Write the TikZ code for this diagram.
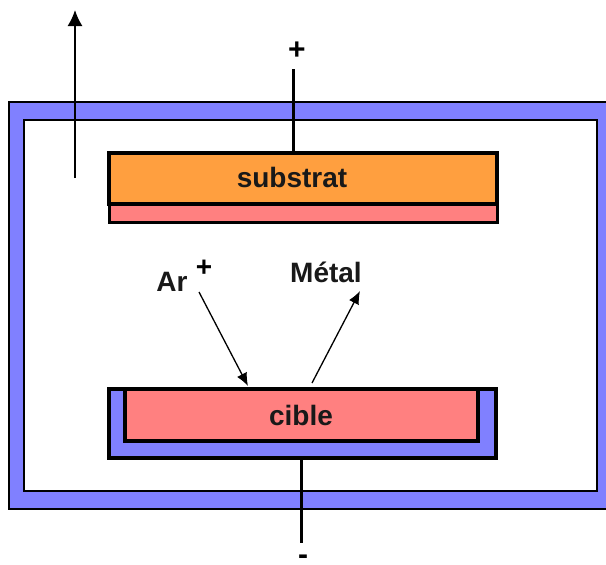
\documentclass[tikz,border=0pt]{standalone}
\usepackage{fontspec}
\setmainfont{Liberation Sans}
\usetikzlibrary{arrows.meta}
\definecolor{frameblue}{HTML}{8080FF}
\definecolor{targetpink}{HTML}{FF8080}
\definecolor{subsorange}{HTML}{FF9F3F}
\tikzset{
  box/.style={draw=black,inner sep=0pt,outer sep=0pt,anchor=north west},
  lbl/.style={inner sep=0pt,font=\bfseries\fontsize{28}{28}\selectfont,text=black!90},
  wire/.style={line width=3.2pt},
  thinarrow/.style={line width=1.3pt,-{Latex[length=13pt,width=11pt]}},
  sym/.style={inner sep=0pt,font=\bfseries\fontsize{30}{30}\selectfont},
}
\begin{document}
\begin{tikzpicture}[x=1pt,y=-1pt]
\useasboundingbox (0,0) rectangle (606,565);
\clip (0,0) rectangle (606,565);
\fill[white] (0,0) rectangle (606,565);
% chamber frame
\filldraw[fill=frameblue,draw=black,line width=2pt,even odd rule]
  (8.5,102) rectangle (615,508.5) (24,120) rectangle (597,491);
% substrate
\node[box,fill=subsorange,line width=3.5pt,minimum width=388pt,minimum height=51pt] (subs) at (109,153) {};
\node[box,fill=targetpink,line width=3pt,minimum width=388pt,minimum height=18pt] (film) at (109,204) {};
\node[lbl] (subslabel) at (292,177) {substrat};
% target holder
\node[box,fill=frameblue,line width=3.5pt,minimum width=387pt,minimum height=69pt] (holder) at (109,389) {};
\node[box,fill=targetpink,line width=3.5pt,minimum width=353pt,minimum height=52pt] (target) at (125,389) {};
\draw[line width=3.5pt] (108,389) -- (497,389);
\node[lbl] (ciblelabel) at (301,415) {cible};
% poles
\node[sym] (plus) at (297,51) {+};
\node[sym] (minus) at (303,560) {-};
\coordinate (plusend) at (293.5,69);
\coordinate (minusend) at (301.5,543);
\draw[wire] (plusend) -- (plusend |- subs.north);
\draw[wire] (minusend |- holder.south) -- (minusend);
% pump arrow
\coordinate (pumpa) at (75,178);
\coordinate (pumpb) at (75,10);
\draw[line width=1.6pt,-{Latex[length=16pt,width=15pt]}] (pumpa) -- (pumpb);
% species
\node[lbl] (ar) at (172,282) {Ar};
\node[sym,font=\bfseries\fontsize{28}{28}\selectfont] (arplus) at (204,268) {+};
\node[lbl] (metal) at (326,272) {Métal};
\coordinate (ara) at (199,292);
\coordinate (arb) at (248,386);
\coordinate (ma) at (312,383);
\coordinate (mb) at (360,291);
\draw[thinarrow] (ara) -- (arb);
\draw[thinarrow] (ma) -- (mb);
\end{tikzpicture}
\end{document}
